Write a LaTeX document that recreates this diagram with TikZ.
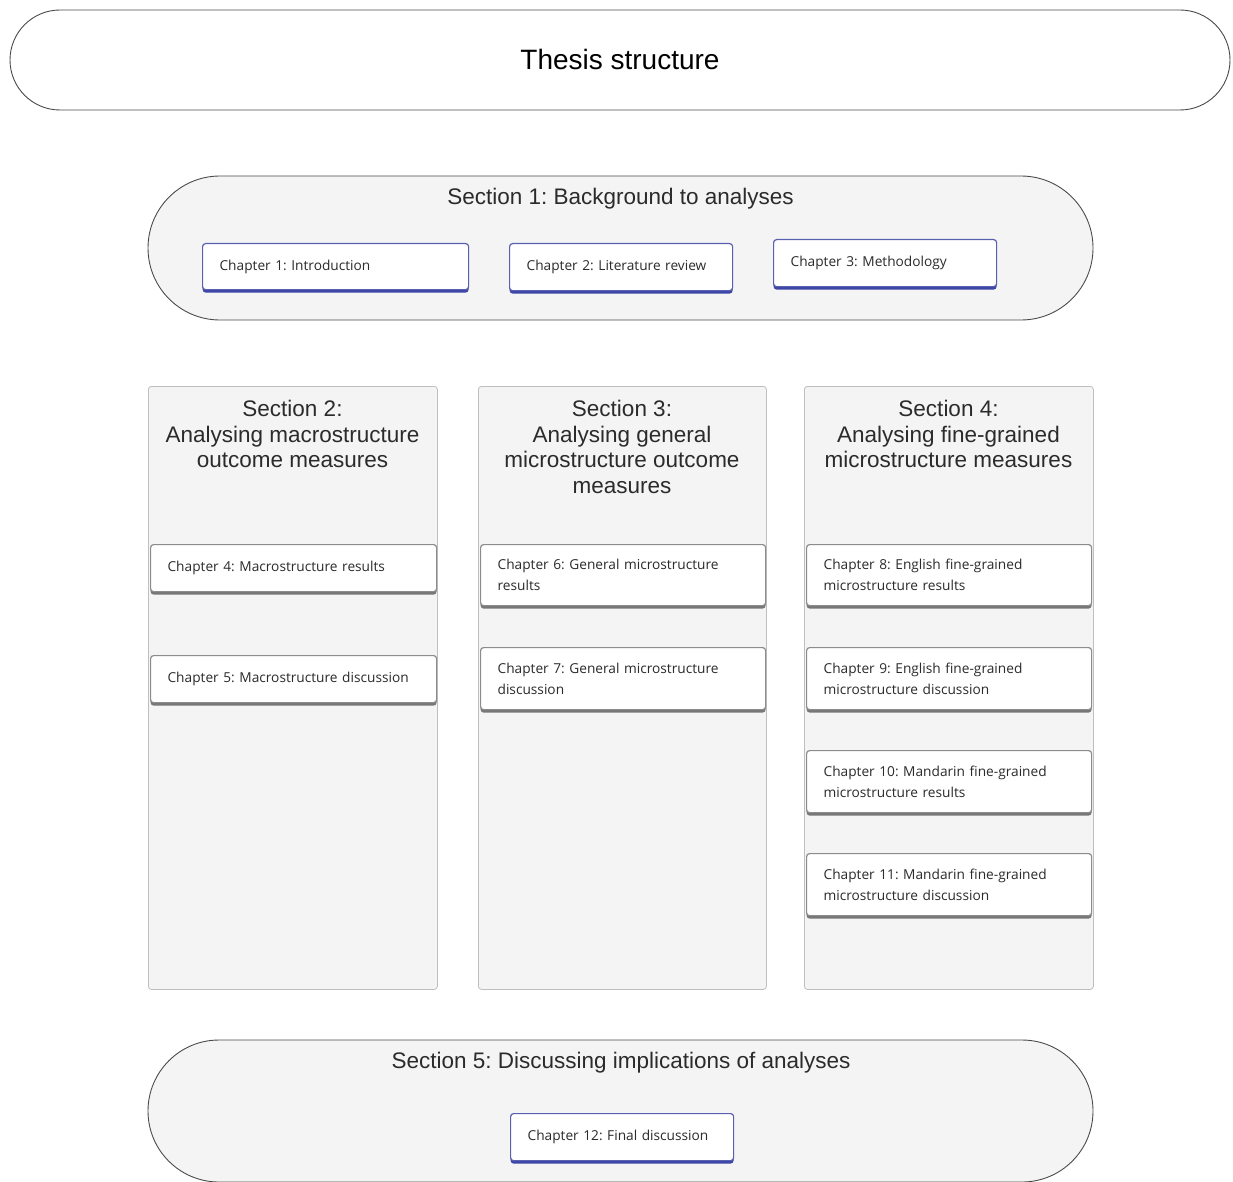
\documentclass[tikz,border=0pt]{standalone}
\usepackage{fontspec}
\setmainfont{Liberation Sans}
\newfontfamily\chapfont{Open Sans}
\usetikzlibrary{shapes.misc,shadows}
\frenchspacing
\definecolor{thesisgray}{HTML}{F4F4F4}
\definecolor{thesisline}{HTML}{4A4A4A}
\definecolor{thesistext}{HTML}{2B2B2B}
\definecolor{chapblue}{HTML}{5A60B0}
\definecolor{chapblueshade}{HTML}{3D46A6}
\definecolor{chapgrey}{HTML}{8C8C8C}
\definecolor{chapgreyshade}{HTML}{777777}
\tikzset{
  thesispicture/.style={x=1pt, y=-1pt},
  thesisband/.style={rounded rectangle, draw=thesisline, line width=0.9pt, fill=thesisgray, inner sep=0pt},
  thesiscolumn/.style={draw=black!25, line width=0.8pt, rounded corners=3pt, fill=thesisgray, anchor=north west, inner sep=0pt},
  sectiontitle/.style={font=\fontsize{22.5}{25.5}\selectfont, text=thesistext, align=center, inner sep=0pt},
  chapbase/.style={line width=1.2pt, rounded corners=3pt, fill=white, anchor=north west, align=left, inner xsep=17pt, inner ysep=0pt, font=\chapfont\fontsize{13.7}{21}\selectfont, text=thesistext},
  chapbox/.style={chapbase, draw=chapblue, drop shadow={shadow xshift=0pt, shadow yshift=-3pt, fill=chapblueshade, opacity=1}},
  chapcol/.style={chapbase, draw=chapgrey, drop shadow={shadow xshift=0pt, shadow yshift=-3pt, fill=chapgreyshade, opacity=1}}
}
\begin{document}
\begin{tikzpicture}[thesispicture]
\useasboundingbox (0,0) rectangle (1233,1182);
% title band
\node[thesisband, fill=white, minimum width=1220pt, minimum height=100pt] (thesis) at (620,60) {};
\node[font=\fontsize{28}{32}\selectfont, text=black] (thesistitle) at (620,59) {Thesis structure};
% section 1
\node[thesisband, minimum width=945pt, minimum height=144pt] (sec1) at (620.5,248) {};
\node[sectiontitle] (sec1title) at (620.5,199) {Section 1: Background to analyses};
\node[chapbox, text width=232pt, minimum height=46pt] (ch1) at (202,243) {Chapter 1: Introduction};
\node[chapbox, text width=189pt, minimum height=47pt] (ch2) at (509,243) {Chapter 2: Literature review};
\node[chapbox, text width=189pt, minimum height=47pt] (ch3) at (773,239) {Chapter 3: Methodology};
% section columns
\node[thesiscolumn, minimum width=289pt, minimum height=603pt] (sec2) at (148,386) {};
\node[thesiscolumn, minimum width=288pt, minimum height=603pt] (sec3) at (478,386) {};
\node[thesiscolumn, minimum width=289pt, minimum height=603pt] (sec4) at (804,386) {};
\node[sectiontitle, anchor=north] (sec2title) at (292.5,400) {Section 2:\\Analysing macrostructure\\outcome measures};
\node[sectiontitle, anchor=north] (sec3title) at (622,400) {Section 3:\\Analysing general\\microstructure outcome\\measures};
\node[sectiontitle, anchor=north] (sec4title) at (948.5,400) {Section 4:\\Analysing fine-grained\\microstructure measures};
\node[chapcol, text width=252pt, minimum height=47pt] (ch4) at (150,544) {Chapter 4: Macrostructure results};
\node[chapcol, text width=252pt, minimum height=47pt] (ch5) at (150,655) {Chapter 5: Macrostructure discussion};
\node[chapcol, text width=251pt, minimum height=61pt] (ch6) at (480,544) {Chapter 6: General microstructure\\results};
\node[chapcol, text width=251pt, minimum height=62pt] (ch7) at (480,647) {Chapter 7: General microstructure\\discussion};
\node[chapcol, text width=251pt, minimum height=61pt] (ch8) at (806,544) {Chapter 8: English fine-grained\\microstructure results};
\node[chapcol, text width=251pt, minimum height=62pt] (ch9) at (806,647) {Chapter 9: English fine-grained\\microstructure discussion};
\node[chapcol, text width=251pt, minimum height=62pt] (ch10) at (806,750) {Chapter 10: Mandarin fine-grained\\microstructure results};
\node[chapcol, text width=251pt, minimum height=62pt] (ch11) at (806,853) {Chapter 11: Mandarin fine-grained\\microstructure discussion};
% section 5
\node[thesisband, minimum width=945pt, minimum height=142pt] (sec5) at (620.5,1111) {};
\node[sectiontitle] (sec5title) at (621,1063) {Section 5: Discussing implications of analyses};
\node[chapbox, text width=189pt, minimum height=47pt] (ch12) at (510,1113) {Chapter 12: Final discussion};
\end{tikzpicture}
\end{document}
